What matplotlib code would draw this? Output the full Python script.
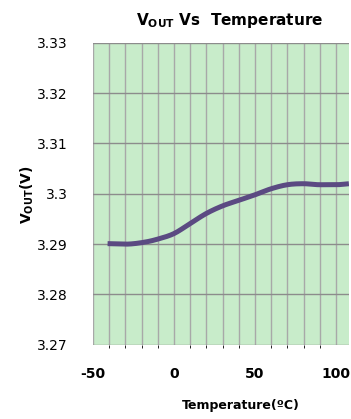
import matplotlib
matplotlib.use("Agg")
import matplotlib.pyplot as plt
import numpy as np

# output voltage vs temperature readings
temp_c = [-41, -30, -18, -10, 0, 10, 20, 30, 40, 50, 60, 70, 80, 90, 100, 108]
vout_v = [3.2901, 3.2900, 3.2904, 3.2910, 3.2921, 3.2941, 3.2961, 3.2976,
          3.2987, 3.2998, 3.3010, 3.3018, 3.3020, 3.3018, 3.3018, 3.3020]

x_ticks = [-50, 0, 50, 100]
y_ticks = [3.27, 3.28, 3.29, 3.30, 3.31, 3.32, 3.33]
y_tick_labels = ["3.27", "3.28", "3.29", "3.3", "3.31", "3.32", "3.33"]

narrow = ["DejaVu Sans"]


def smooth(x, y, n=20):
    # piecewise cubic hermite, slopes averaged from neighbours
    x = np.asarray(x, float)
    y = np.asarray(y, float)
    d = np.diff(y) / np.diff(x)
    m = np.empty_like(y)
    m[0], m[-1] = d[0], d[-1]
    for i in range(1, len(y) - 1):
        m[i] = 0.0 if d[i - 1] * d[i] <= 0 else 0.5 * (d[i - 1] + d[i])
    xs, ys = [], []
    for i in range(len(x) - 1):
        h = x[i + 1] - x[i]
        t = np.linspace(0, 1, n, endpoint=False)
        h00 = 2 * t**3 - 3 * t**2 + 1
        h10 = t**3 - 2 * t**2 + t
        h01 = -2 * t**3 + 3 * t**2
        h11 = t**3 - t**2
        xs.append(x[i] + t * h)
        ys.append(h00 * y[i] + h10 * h * m[i] + h01 * y[i + 1] + h11 * h * m[i + 1])
    xs.append([x[-1]])
    ys.append([y[-1]])
    return np.concatenate(xs), np.concatenate(ys)


fig = plt.figure(figsize=(3.51, 4.19), dpi=100)
ax = fig.add_axes([0.265, 0.177, 0.729, 0.721])
ax.set_facecolor("#c8ecca")

sx, sy = smooth(temp_c, vout_v)
ax.plot(sx, sy, color="#5b4a82", lw=3.6, solid_capstyle="butt")

ax.set_xlim(-50, 108)
ax.set_ylim(3.27, 3.33)
ax.set_xticks(np.arange(-50, 101, 10), minor=True)
ax.set_xticks(x_ticks)
ax.set_xticklabels([str(t) for t in x_ticks], family=narrow, fontsize=10,
                   fontweight="bold")
ax.set_yticks(y_ticks)
ax.set_yticklabels(y_tick_labels, family=narrow, fontsize=10)
ax.tick_params(length=0, pad=18)
ax.tick_params(axis="x", pad=16)
ax.grid(True, which="both", axis="x", color="#a8a8a8", lw=1)
ax.grid(True, axis="y", color="#8c8c8c", lw=1)
for s in ax.spines.values():
    s.set_visible(False)

fig.text(0.655, 0.952, r"V$_{\mathbf{OUT}}$ Vs  Temperature", ha="center", va="center",
         family=narrow, fontsize=11, fontweight="bold")
fig.text(0.077, 0.535, r"V$_{\mathbf{OUT}}$(V)", ha="center", va="center", rotation=90,
         family=narrow, fontsize=10, fontweight="bold")
fig.text(0.685, 0.033, "Temperature(ºC)", ha="center", va="center",
         family=narrow, fontsize=9, fontweight="bold")

fig.savefig("out.png", dpi=100)
